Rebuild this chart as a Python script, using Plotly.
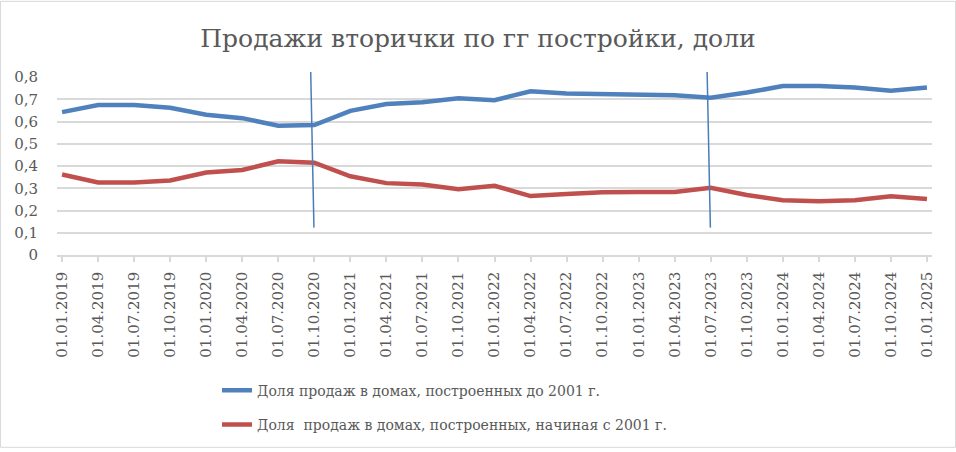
import plotly.graph_objects as go

dates = ["01.01.2019", "01.04.2019", "01.07.2019", "01.10.2019",
         "01.01.2020", "01.04.2020", "01.07.2020", "01.10.2020",
         "01.01.2021", "01.04.2021", "01.07.2021", "01.10.2021",
         "01.01.2022", "01.04.2022", "01.07.2022", "01.10.2022",
         "01.01.2023", "01.04.2023", "01.07.2023", "01.10.2023",
         "01.01.2024", "01.04.2024", "01.07.2024", "01.10.2024",
         "01.01.2025"]

share_before_2001 = [0.642, 0.674, 0.674, 0.662, 0.630, 0.615, 0.581, 0.584,
                     0.648, 0.679, 0.686, 0.704, 0.696, 0.736, 0.726, 0.722,
                     0.718, 0.718, 0.707, 0.730, 0.759, 0.759, 0.753, 0.738,
                     0.753]

share_since_2001 = [0.362, 0.326, 0.326, 0.335, 0.371, 0.382, 0.421, 0.415,
                    0.354, 0.323, 0.317, 0.296, 0.311, 0.265, 0.274, 0.282,
                    0.283, 0.283, 0.302, 0.270, 0.246, 0.242, 0.246, 0.264,
                    0.252]

marker_dates = ["01.10.2020", "01.07.2023"]
marker_top = 0.822
marker_bottom = 0.123

name_before = "Доля продаж в домах, построенных до 2001 г."
name_since = "Доля\u00a0 продаж в домах, построенных, начиная с 2001 г."

W, H = 956, 452
ML, MR, MT, MB = 57, 24, 77, 195
X_RANGE = [-0.14, 24.14]
Y_RANGE = [0, 0.8]

font_family = "DejaVu Serif, Liberation Serif, serif"
gray = "#595959"
grid = "#d9d9d9"

fig = go.Figure()
fig.add_trace(go.Scatter(x=dates, y=share_before_2001, mode="lines",
                         name=name_before, legendgroup="a",
                         line=dict(color="#4f81bd", width=4.5)))
fig.add_trace(go.Scatter(x=dates, y=share_since_2001, mode="lines",
                         name=name_since, legendgroup="b",
                         line=dict(color="#c0504d", width=4.5)))


def xp(i):
    return (i - X_RANGE[0]) / (X_RANGE[1] - X_RANGE[0])


def yp(v):
    return (v - Y_RANGE[0]) / (Y_RANGE[1] - Y_RANGE[0])


for d in marker_dates:
    i = dates.index(d)
    fig.add_shape(type="line", xref="paper", yref="paper",
                  x0=xp(i - 0.1), x1=xp(i - 0.01),
                  y0=yp(marker_top), y1=yp(marker_bottom),
                  line=dict(color="#4a7ebb", width=1.5), layer="above")

pw = W - ML - MR
ph = H - MT - MB
fig.add_shape(type="rect", xref="paper", yref="paper",
              x0=-(ML - 0.5) / pw, x1=1 + (MR - 0.5) / pw,
              y0=-(MB - 0.5) / ph, y1=1 + (MT - 0.5) / ph,
              line=dict(color=grid, width=1), layer="below")

fig.update_layout(
    width=W, height=H,
    margin=dict(l=ML, r=MR, t=MT, b=MB),
    paper_bgcolor="white", plot_bgcolor="white",
    title=dict(text="Продажи вторички по гг постройки, доли",
               x=0.5, xref="container", xanchor="center",
               y=1 - 38 / H, yanchor="middle",
               font=dict(family=font_family, size=25, color=gray)),
    font=dict(family=font_family, color=gray),
    xaxis=dict(type="category", range=X_RANGE,
               tickangle=-90, ticks="outside", ticklen=5, tickcolor=grid,
               tickwidth=1.5, ticklabelstandoff=4,
               showline=True, linecolor=grid, linewidth=1.5,
               showgrid=False, tickfont=dict(size=15, color=gray)),
    yaxis=dict(range=Y_RANGE, dtick=0.1, tick0=0,
               showgrid=True, gridcolor=grid, gridwidth=1.5,
               zeroline=False, showline=False,
               ticks="outside", ticklen=15, tickcolor="rgba(0,0,0,0)",
               tickformat=".1~f",
               tickfont=dict(size=15, color=gray)),
    separators=", ",
    showlegend=True,
    legend=dict(orientation="v", x=(217 - ML) / pw, xanchor="left",
                y=(H - MB - 378) / ph, yanchor="top",
                tracegroupgap=13,
                font=dict(family=font_family, size=14, color=gray),
                bgcolor="rgba(0,0,0,0)"),
)

fig.write_html("out.html")
